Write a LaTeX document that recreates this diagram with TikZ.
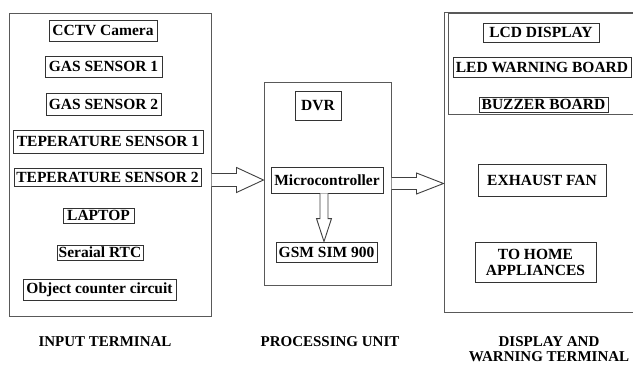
\documentclass[tikz,border=0pt]{standalone}
\usepackage{fontspec}
\setmainfont{Liberation Serif}
\usetikzlibrary{calc}
\begin{document}
\begin{tikzpicture}[x=1pt,y=-1pt,
  item/.style={draw=black!80, line width=0.9pt, inner sep=0pt, align=center,
    font=\fontsize{15.5}{16}\selectfont\bfseries},
  frame/.style={draw=black!65, line width=1pt, inner sep=0pt},
  termlabel/.style={inner sep=0pt, align=center,
    font=\fontsize{15}{15}\selectfont\bfseries},
  blockarrow/.style={draw=black!75, fill=white, line width=0.9pt, line join=miter}
]
\useasboundingbox (0,0) rectangle (633,365);
% frames
\node[frame, minimum width=202, minimum height=303] (inbox) at (110,164.5) {};
\node[frame, minimum width=127, minimum height=203] (mid) at (327.5,183.5) {};
\node[frame, minimum width=206, minimum height=300] (rbox) at (547,162) {};
\node[frame, minimum width=202, minimum height=101] (rinner) at (549,63.5) {};
% input items
\node[item, minimum width=108, minimum height=21] (cctv) at (103,30.5) {CCTV Camera};
\node[item, minimum width=117, minimum height=21] (gas1) at (103.5,66.5) {GAS SENSOR 1};
\node[item, minimum width=115, minimum height=22] (gas2) at (103.5,104) {GAS SENSOR 2};
\node[item, minimum width=190, minimum height=23] (temp1) at (108,141.5) {TEPERATURE SENSOR 1};
\node[item, minimum width=187, minimum height=18] (temp2) at (107.5,177) {TEPERATURE SENSOR 2};
\node[item, minimum width=71, minimum height=15] (laptop) at (98.5,215.5) {LAPTOP};
\node[item, minimum width=86, minimum height=15] (rtc) at (100,252.5) {Seraial RTC};
\node[item, minimum width=153, minimum height=21] (obj) at (99.5,289.5) {Object counter circuit};
% processing items
\node[item, minimum width=46, minimum height=29] (dvr) at (318,105.5) {DVR};
\node[item, minimum width=112, minimum height=26] (mc) at (327,180) {Microcontroller};
\node[item, minimum width=101, minimum height=20] (gsm) at (326.5,252) {GSM SIM 900};
% output items
\node[item, minimum width=116, minimum height=19] (lcd) at (541,32.5) {LCD DISPLAY};
\node[item, minimum width=178, minimum height=20] (led) at (542,67) {LED WARNING BOARD};
\node[item, minimum width=129, minimum height=15] (buzz) at (543.5,104.5) {BUZZER BOARD};
\node[item, minimum width=128, minimum height=32] (fan) at (542,180) {EXHAUST FAN};
\node[item, minimum width=121, minimum height=40] (home) at (535.5,262) {TO HOME\\APPLIANCES};
% terminal labels
\node[termlabel] (l1) at (105,342) {INPUT TERMINAL};
\node[termlabel] (l2) at (330,342) {PROCESSING UNIT};
\node[termlabel] (l3) at (549,349.5) {DISPLAY AND\\WARNING TERMINAL};
% arrows
\coordinate (a1s) at (inbox.east |- mc.center);
\coordinate (a1t) at (mid.west |- mc.center);
\draw[blockarrow] ($(a1s)+(0,-6.5)$) -- ($(a1t)+(-27,-6.5)$) -- ($(a1t)+(-27,-12.5)$) -- (a1t)
  -- ($(a1t)+(-27,12.5)$) -- ($(a1t)+(-27,6.5)$) -- ($(a1s)+(0,6.5)$);
\coordinate (a2s) at (mid.east);
\coordinate (a2t) at (rbox.west |- mid.east);
\draw[blockarrow] ($(a2s)+(0,-6)$) -- ($(a2t)+(-27,-6)$) -- ($(a2t)+(-27,-10.5)$) -- (a2t)
  -- ($(a2t)+(-27,10.5)$) -- ($(a2t)+(-27,6)$) -- ($(a2s)+(0,6)$);
\coordinate (a3s) at ($(mc.south)+(-3,0)$);
\coordinate (a3t) at (a3s |- gsm.north);
\draw[blockarrow] ($(a3s)+(-4,0)$) -- ($(a3t)+(-4,-23)$) -- ($(a3t)+(-7.5,-23)$) -- (a3t)
  -- ($(a3t)+(7.5,-23)$) -- ($(a3t)+(4,-23)$) -- ($(a3s)+(4,0)$);
\end{tikzpicture}
\end{document}
